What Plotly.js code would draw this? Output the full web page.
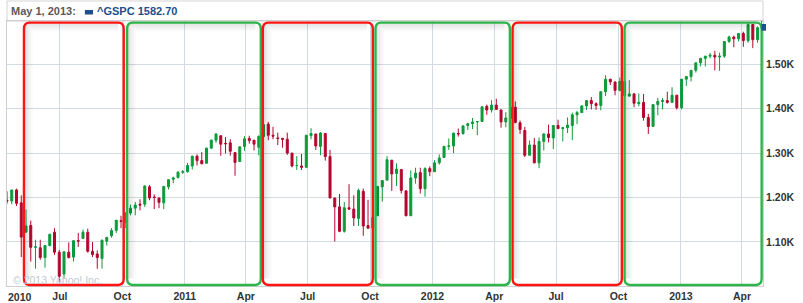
<!DOCTYPE html>
<html>
<head>
<meta charset="utf-8">
<script src="https://cdn.plot.ly/plotly-3.0.1.min.js"></script>
<style>html,body{margin:0;padding:0;background:#fff;}#chart{width:803px;height:303px;}</style>
</head>
<body>
<div id="chart"></div>
<script>
// Weekly candles (mid-week date) for ^GSPC
const weekDates = [
"2010-04-14","2010-04-21","2010-04-28","2010-05-05","2010-05-12","2010-05-19","2010-05-26","2010-06-02","2010-06-09","2010-06-16","2010-06-23","2010-06-30","2010-07-07","2010-07-14","2010-07-21","2010-07-28","2010-08-04","2010-08-11","2010-08-18","2010-08-25","2010-09-01","2010-09-08","2010-09-15","2010-09-22","2010-09-29","2010-10-06","2010-10-13","2010-10-20","2010-10-27","2010-11-03","2010-11-10","2010-11-17","2010-11-24","2010-12-01","2010-12-08","2010-12-15","2010-12-22","2010-12-29",
"2011-01-05","2011-01-12","2011-01-19","2011-01-26","2011-02-02","2011-02-09","2011-02-16","2011-02-23","2011-03-02","2011-03-09","2011-03-16","2011-03-23","2011-03-30","2011-04-06","2011-04-13","2011-04-20","2011-04-27","2011-05-04","2011-05-11","2011-05-18","2011-05-25","2011-06-01","2011-06-08","2011-06-15","2011-06-22","2011-06-29","2011-07-06","2011-07-13","2011-07-20","2011-07-27","2011-08-03","2011-08-10","2011-08-17","2011-08-24","2011-08-31","2011-09-07","2011-09-14","2011-09-21","2011-09-28","2011-10-05","2011-10-12","2011-10-19","2011-10-26","2011-11-02","2011-11-09","2011-11-16","2011-11-23","2011-11-30","2011-12-07","2011-12-14","2011-12-21","2011-12-28",
"2012-01-04","2012-01-11","2012-01-18","2012-01-25","2012-02-01","2012-02-08","2012-02-15","2012-02-22","2012-02-29","2012-03-07","2012-03-14","2012-03-21","2012-03-28","2012-04-04","2012-04-11","2012-04-18","2012-04-25","2012-05-02","2012-05-09","2012-05-16","2012-05-23","2012-05-30","2012-06-06","2012-06-13","2012-06-20","2012-06-27","2012-07-04","2012-07-11","2012-07-18","2012-07-25","2012-08-01","2012-08-08","2012-08-15","2012-08-22","2012-08-29","2012-09-05","2012-09-12","2012-09-19","2012-09-26","2012-10-03","2012-10-10","2012-10-17","2012-10-24","2012-10-31","2012-11-07","2012-11-14","2012-11-21","2012-11-28","2012-12-05","2012-12-12","2012-12-19","2012-12-26",
"2013-01-02","2013-01-09","2013-01-16","2013-01-23","2013-01-30","2013-02-06","2013-02-13","2013-02-20","2013-02-27","2013-03-06","2013-03-13","2013-03-20","2013-03-27","2013-04-03","2013-04-10","2013-04-17","2013-04-24","2013-04-30"
];
const openVals = [
1194,1192,1217,1188,1122,1137,1088,1087,1065,1092,1122,1077,1028,1077,1066,1103,1108,1122,1079,1073,1063,1102,1114,1126,1148,1144,1165,1176,1185,1185,1224,1201,1199,1188,1224,1241,1245,1257,
1258,1271,1293,1283,1277,1311,1329,1339,1322,1323,1301,1281,1315,1333,1329,1313,1337,1365,1340,1334,1333,1331,1300,1272,1271,1268,1339,1343,1315,1344,1292,1199,1179,1124,1177,1174,1153,1214,1137,1131,1159,1224,1239,1284,1254,1263,1215,1159,1244,1256,1220,1265,
1258,1278,1290,1315,1316,1344,1344,1362,1366,1370,1371,1405,1397,1408,1397,1370,1378,1403,1368,1351,1295,1318,1278,1326,1343,1334,1362,1355,1357,1362,1386,1391,1406,1418,1411,1407,1438,1466,1460,1441,1461,1428,1433,1411,1414,1380,1360,1409,1416,1418,1414,1430,
1402,1466,1472,1486,1503,1513,1518,1520,1516,1518,1551,1561,1557,1569,1553,1589,1555,1582
];
const highVals = [
1214,1217,1220,1205,1173,1148,1105,1105,1092,1119,1131,1082,1078,1099,1103,1120,1128,1130,1100,1081,1105,1112,1131,1149,1159,1167,1184,1190,1196,1227,1228,1207,1199,1225,1241,1247,1259,1262,
1278,1294,1297,1302,1312,1330,1344,1339,1336,1331,1301,1315,1338,1339,1329,1340,1364,1370,1359,1346,1334,1346,1300,1293,1298,1341,1356,1343,1347,1345,1307,1199,1208,1190,1230,1205,1220,1220,1195,1172,1224,1239,1293,1284,1277,1264,1215,1261,1267,1267,1268,1270,
1284,1297,1316,1333,1345,1355,1363,1368,1379,1372,1405,1409,1419,1422,1397,1392,1406,1416,1373,1359,1328,1334,1335,1344,1364,1363,1375,1358,1380,1391,1395,1408,1418,1426,1414,1438,1475,1467,1460,1470,1461,1464,1435,1434,1433,1388,1409,1424,1424,1438,1448,1431,
1467,1473,1486,1503,1514,1518,1525,1530,1526,1552,1564,1564,1570,1573,1593,1589,1585,1598
];
const lowVals = [
1186,1185,1181,1066,1122,1056,1040,1060,1042,1090,1071,1011,1018,1063,1056,1089,1107,1076,1066,1040,1040,1092,1110,1120,1131,1131,1160,1160,1171,1179,1194,1174,1176,1174,1218,1232,1243,1253,
1256,1263,1272,1275,1277,1310,1323,1294,1299,1294,1249,1280,1305,1321,1306,1295,1331,1329,1331,1318,1312,1296,1268,1262,1262,1266,1331,1307,1295,1283,1199,1101,1122,1121,1172,1136,1136,1114,1131,1075,1159,1191,1239,1215,1226,1209,1158,1159,1231,1209,1202,1248,
1258,1274,1290,1307,1300,1337,1341,1352,1354,1340,1370,1386,1391,1397,1357,1358,1358,1367,1343,1291,1295,1277,1266,1306,1324,1309,1354,1326,1345,1329,1365,1391,1397,1398,1397,1396,1428,1453,1430,1439,1426,1428,1403,1405,1373,1343,1360,1385,1398,1411,1414,1398,
1398,1451,1461,1481,1495,1495,1513,1486,1485,1514,1548,1538,1551,1539,1548,1536,1548,1577
];
const closeVals = [
1192,1217,1187,1111,1136,1088,1089,1065,1092,1117,1077,1023,1078,1065,1103,1102,1122,1079,1072,1065,1104,1110,1126,1149,1146,1165,1176,1183,1183,1226,1199,1200,1189,1225,1240,1244,1257,1258,
1272,1293,1283,1276,1311,1329,1343,1320,1321,1304,1279,1314,1332,1328,1320,1337,1364,1340,1338,1333,1331,1300,1271,1272,1268,1340,1344,1316,1345,1292,1199,1179,1124,1177,1174,1154,1216,1136,1131,1155,1225,1238,1285,1253,1264,1216,1159,1244,1255,1220,1265,1258,
1278,1289,1315,1316,1345,1343,1361,1366,1370,1371,1404,1397,1408,1398,1370,1379,1403,1369,1353,1295,1318,1278,1326,1343,1335,1362,1355,1357,1363,1386,1391,1406,1418,1411,1407,1438,1466,1460,1441,1461,1429,1433,1412,1414,1380,1360,1409,1416,1418,1414,1430,1402,
1466,1472,1486,1503,1513,1518,1520,1516,1518,1551,1561,1557,1569,1553,1589,1555,1582,1583
];
const lastDateLabel = "May 1, 2013:";
const seriesName = "^GSPC";
const lastClose = 1582.70;

// Seasonal periods: red = May–Sep ("sell in May"), green = Oct–Apr
const periodStarts = ["2010-05-09","2010-10-08","2011-04-26","2011-10-09","2012-04-28","2012-10-10"];
const periodEnds   = ["2010-10-03","2011-04-23","2011-10-05","2012-04-24","2012-10-06","2013-04-30"];
const periodKinds  = ["sell","buy","sell","buy","sell","buy"];

const xTickVals = ["2010-07-01","2010-10-01","2011-01-01","2011-04-01","2011-07-01","2011-10-01","2012-01-01","2012-04-01","2012-07-01","2012-10-01","2013-01-01","2013-04-01"];
const xTickText = ["Jul","Oct","2011","Apr","Jul","Oct","2012","Apr","Jul","Oct","2013","Apr"];
const yTickVals = [1100,1200,1300,1400,1500];
const yTickText = ["1.10K","1.20K","1.30K","1.40K","1.50K"];

const GREEN = "#0e9a3a", RED = "#b4062e";
const BOX = {sell: "#ff1414", buy: "#2db54b"};
const FONT = "Liberation Sans, Arial, sans-serif";

const DAY = 86400000;
const PXDAY = 0.678, PLOTH = 265;
function f(ms){ return new Date(ms).toISOString().slice(0,19).replace("T","_"); }
function ms(d){ return Date.parse(d + "T00:00:00Z"); }

const shapes = [];
// outer header frame
shapes.push({type:"rect", xref:"paper", yref:"paper", x0:0, x1:1, y0:1, y1:1.0755, line:{color:"#d4d4d4", width:1}, fillcolor:"rgba(0,0,0,0)", layer:"below"});

for (let i = 0; i < periodStarts.length; i++) {
  const x0 = ms(periodStarts[i]), x1 = ms(periodEnds[i]);
  const rx = 8 * DAY, ry = 0.024, y0 = 0.004, y1 = 0.994;
  // inner shadow along left & top
  const alphas = [0.10, 0.075, 0.05, 0.03, 0.015];
  alphas.forEach((a, k) => {
    const off = (k + 1) * 1.6;
    const ox = off / PXDAY * DAY, oy = off / PLOTH;
    shapes.push({type:"path", xref:"x", yref:"paper", layer:"above",
      path:`M ${f(x0+ox)},${y0+ry} L ${f(x0+ox)},${y1-oy} L ${f(x1-rx)},${y1-oy}`,
      line:{color:`rgba(0,0,0,${a})`, width:1.8}});
  });
  const p = `M ${f(x0+rx)},${y0} L ${f(x1-rx)},${y0} Q ${f(x1)},${y0} ${f(x1)},${y0+ry} L ${f(x1)},${y1-ry} Q ${f(x1)},${y1} ${f(x1-rx)},${y1} L ${f(x0+rx)},${y1} Q ${f(x0)},${y1} ${f(x0)},${y1-ry} L ${f(x0)},${y0+ry} Q ${f(x0)},${y0} ${f(x0+rx)},${y0} Z`;
  shapes.push({type:"path", xref:"x", yref:"paper", layer:"above", path:p,
    line:{color:BOX[periodKinds[i]], width:2.4}, fillcolor:"rgba(0,0,0,0)"});
}
// last value flag on the axis
shapes.push({type:"rect", xref:"paper", yref:"y", x0:0.998, x1:1.004, y0:lastClose-7.5, y1:lastClose+7.5, fillcolor:"#1f4e8c", line:{width:0}, layer:"above"});
// legend swatch
shapes.push({type:"rect", xref:"paper", yref:"paper", x0:0.103, x1:0.1138, y0:1.0245, y1:1.0415, fillcolor:"#1f4e8c", line:{width:0}});

const trace = {
  type:"candlestick", x:weekDates, open:openVals, high:highVals, low:lowVals, close:closeVals,
  increasing:{line:{color:GREEN, width:1}, fillcolor:GREEN},
  decreasing:{line:{color:RED, width:1}, fillcolor:RED},
  whiskerwidth:0, hoverinfo:"skip", showlegend:false
};

const layout = {
  width:803, height:303,
  margin:{l:7, r:40, t:21, b:17, pad:0},
  paper_bgcolor:"#ffffff", plot_bgcolor:"#ffffff",
  showlegend:false,
  font:{family:FONT, size:10.5, color:"#333333"},
  xaxis:{type:"date", range:["2010-04-14","2013-05-02"], rangeslider:{visible:false},
    tickmode:"array", tickvals:xTickVals, ticktext:xTickText,
    showgrid:true, gridcolor:"#d3dae2", gridwidth:1,
    showline:true, linecolor:"#cfcfcf", linewidth:1, mirror:true,
    ticks:"", zeroline:false,
    tickfont:{family:FONT, size:10.5, color:"#333333", weight:"bold"}},
  yaxis:{side:"right", range:[1001, 1597], tickmode:"array", tickvals:yTickVals, ticktext:yTickText,
    showgrid:true, gridcolor:"#d3dae2", gridwidth:1,
    showline:true, linecolor:"#cfcfcf", linewidth:1, mirror:true,
    ticks:"", zeroline:false,
    tickfont:{family:FONT, size:10.5, color:"#333333", weight:"bold"}},
  shapes:shapes,
  annotations:[
    {xref:"x", yref:"paper", x:"2010-05-03", y:-0.04, yanchor:"middle", xanchor:"center", text:"<b>2010</b>", showarrow:false, font:{family:FONT, size:10.5, color:"#333333"}},
    {xref:"paper", yref:"paper", x:0.002, y:1.036, xanchor:"left", yanchor:"middle", text:"<b>"+lastDateLabel+"</b>", showarrow:false, font:{family:FONT, size:11, color:"#5a5a5a"}},
    {xref:"paper", yref:"paper", x:0.117, y:1.036, xanchor:"left", yanchor:"middle", text:"<b>"+seriesName+" "+lastClose.toFixed(2)+"</b>", showarrow:false, font:{family:FONT, size:11, color:"#1f4e8c"}},
    {xref:"paper", yref:"paper", x:0.005, y:0.024, xanchor:"left", yanchor:"middle", text:"© 2013 Yahoo! Inc.", showarrow:false, font:{family:FONT, size:10.5, color:"#c2c9d1"}}
  ],
  hovermode:false
};

Plotly.newPlot("chart", [trace], layout, {staticPlot:true, displayModeBar:false});
</script>
</body>
</html>
